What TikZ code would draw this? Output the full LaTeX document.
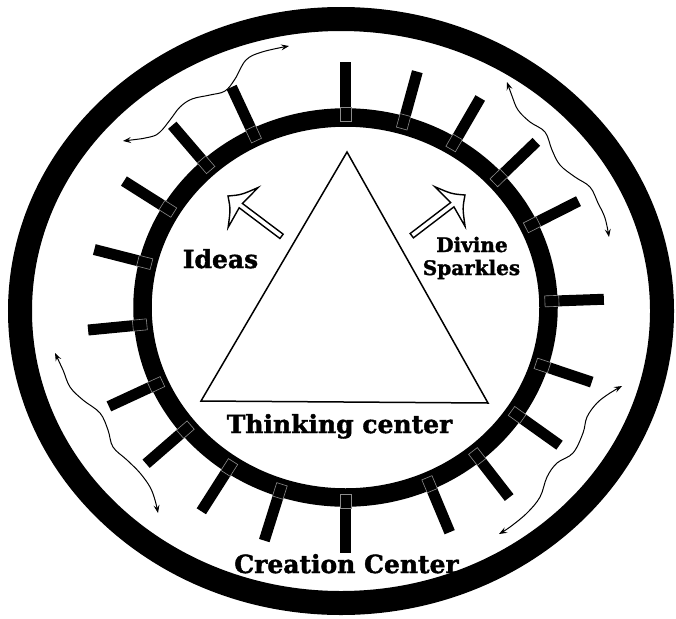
\documentclass[tikz,border=0pt]{standalone}
\usepackage{fontspec}
\setmainfont{DejaVu Serif}[BoldFeatures={FakeBold=1.6}]
\usetikzlibrary{arrows.meta}
\begin{document}
\begin{tikzpicture}[x=1pt,y=-1pt,
  tickbase/.style={draw=black!45, line width=0.6pt},
  wavy/.style={line width=1pt, {Stealth[length=8pt,width=6pt,inset=3pt]}-{Stealth[length=8pt,width=6pt,inset=3pt]}},
  hollow/.style={draw=black, line width=1.4pt, fill=white, line join=miter},
  tri/.style={draw=black, line width=1.5pt, line join=miter},
  lbl/.style={font=\bfseries\fontsize{25}{29}\selectfont, inner sep=0pt, anchor=base},
  slbl/.style={font=\bfseries\fontsize{20}{24}\selectfont, inner sep=0pt, anchor=base}]
\fill[white] (0,0) rectangle (676,618);
\useasboundingbox (0,0) rectangle (676,618);
% rings
\draw[line width=24pt] (341,311) ellipse [x radius=321, y radius=292];
\draw[line width=18.5pt] (345.5,307.5) ellipse [x radius=203, y radius=190];
% ticks
\foreach \t in {90,73.7,58.3,42.1,25.4,1.9,-17.5,-33.8,-50.4,-66,-90,-108.5,-124.2,-140.8,-156.5,-174.8,166.5,149.3,132.4,116.4} {
  \pgfmathsetmacro\nx{345.5+212.5*cos(\t)}
  \pgfmathsetmacro\ny{307.5-199.5*sin(\t)}
  \pgfmathsetmacro\na{atan2(sin(\t)*212.5, cos(\t)*199.5)}
  \begin{scope}[shift={(\nx,\ny)}, rotate=\na]
    \fill[black] (-3,-5.5) rectangle (46,5.5);
    \draw[tickbase] (-13,-5.5) rectangle (1,5.5);
  \end{scope}
}
% triangle
\coordinate (apex) at (347,152);
\coordinate (br) at (488,403);
\coordinate (bl) at (201,401);
\draw[tri] (apex) -- (br) -- (bl) -- cycle;
% hollow arrows
\begin{scope}[shift={(228,196)}, rotate=-37]
  \draw[hollow] (0,0) .. controls (10,-9) .. (19,-25) -- (16,-2.7) -- (67,-2.7) -- (67,2.7) -- (16,2.7) -- (19,25) .. controls (10,9) .. (0,0) -- cycle;
\end{scope}
\begin{scope}[shift={(465,195)}, rotate=217.4]
  \draw[hollow] (0,0) .. controls (10,-9) .. (19,-25) -- (16,-2.7) -- (67,-2.7) -- (67,2.7) -- (16,2.7) -- (19,25) .. controls (10,9) .. (0,0) -- cycle;
\end{scope}
% wavy arrows
\draw[wavy] plot[smooth, tension=0.6] coordinates {(123,141) (150,137) (160,132) (170,120) (180,107) (192,99) (210,95) (225,91) (235,79) (246,60) (262,52) (289,46)};
\draw[wavy] plot[smooth, tension=0.6] coordinates {(507,82) (512,96) (518,110) (530,122) (545,132) (552,150) (560,165) (575,177) (590,187) (598,203) (605,218) (609,237)};
\draw[wavy] plot[smooth, tension=0.6] coordinates {(55,353) (63,370) (70,387) (83,400) (100,413) (108,430) (113,447) (127,460) (140,473) (150,487) (155,500) (158,513)};
\draw[wavy] plot[smooth, tension=0.6] coordinates {(622,386) (610,393) (597,403) (587,417) (583,433) (573,453) (557,463) (547,477) (540,497) (527,513) (510,527) (499,534)};
% labels
\node[lbl] (ideas) at (220.5,268) {Ideas};
\node[slbl] (divine) at (472,252) {Divine};
\node[slbl] (sparkles) at (471.5,275) {Sparkles};
\node[lbl] (thinking) at (339.5,433) {Thinking center};
\node[lbl] (creation) at (346.5,573) {Creation Center};
\end{tikzpicture}
\end{document}
